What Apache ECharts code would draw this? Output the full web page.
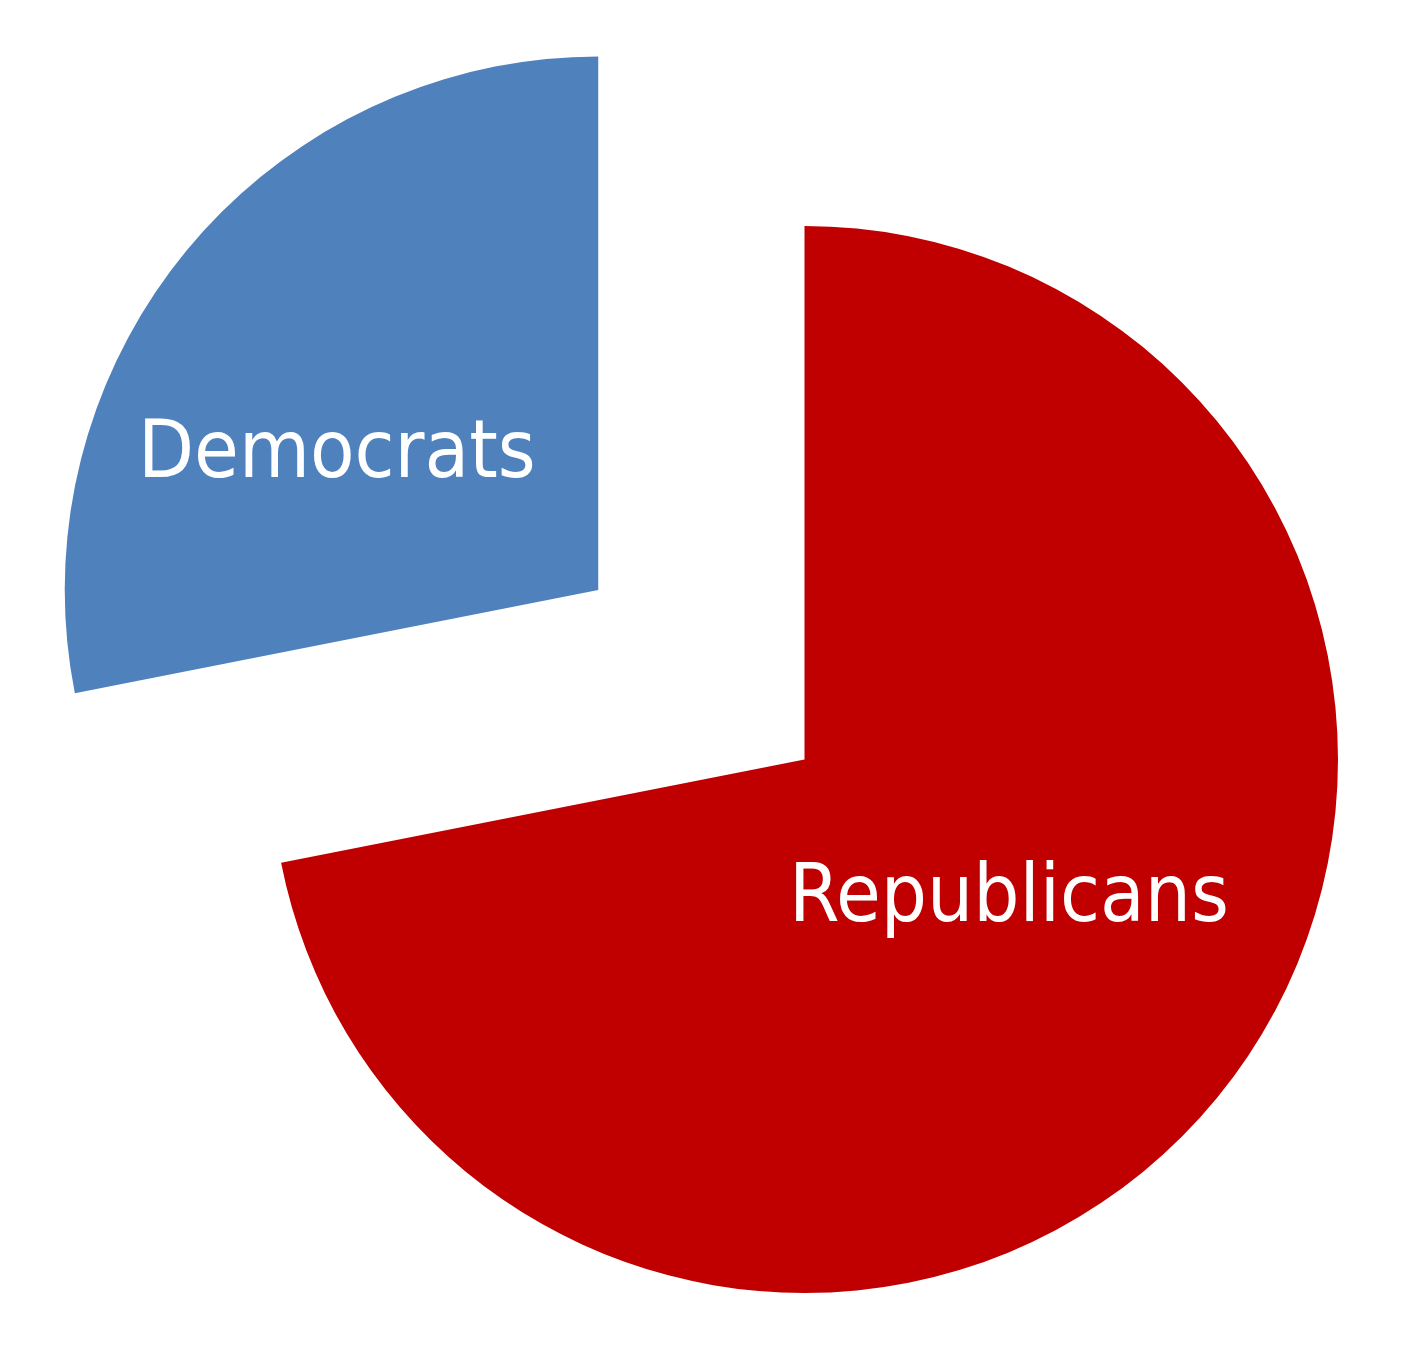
<!DOCTYPE html>
<html>
<head>
<meta charset="utf-8">
<script src="https://cdn.jsdelivr.net/npm/echarts@6/dist/echarts.min.js"></script>
<style>
html,body{margin:0;padding:0;background:#fff;}
#chart{width:1401px;height:1360px;}
</style>
</head>
<body>
<div id="chart"></div>
<script>
const categories = ['Republicans', 'Democrats'];
const values = [71.9, 28.1];
const colors = ['#C00000', '#4F81BD'];
const exploded = [false, true];
const labelShift = [[-4, -31], [-53, 37]];

const chart = echarts.init(document.getElementById('chart'), null, {renderer: 'canvas'});
chart.setOption({
  animation: false,
  backgroundColor: '#ffffff',
  series: [{
    type: 'pie',
    center: [804.5, 759.5],
    radius: 533.5,
    startAngle: 90,
    clockwise: true,
    selectedMode: 'multiple',
    selectedOffset: 267,
    avoidLabelOverlap: false,
    emphasis: {disabled: true},
    itemStyle: {borderWidth: 0},
    label: {
      show: true,
      position: 'inside',
      color: '#ffffff',
      fontFamily: '"DejaVu Sans Condensed", "DejaVu Sans"',
      fontSize: 81,
      formatter: '{b}'
    },
    labelLine: {show: false},
    labelLayout: function (p) {
      const s = labelShift[p.dataIndex];
      return {dx: s[0], dy: s[1]};
    },
    data: categories.map((c, i) => ({
      name: c,
      value: values[i],
      selected: exploded[i],
      itemStyle: {color: colors[i]}
    }))
  }]
});
</script>
</body>
</html>
